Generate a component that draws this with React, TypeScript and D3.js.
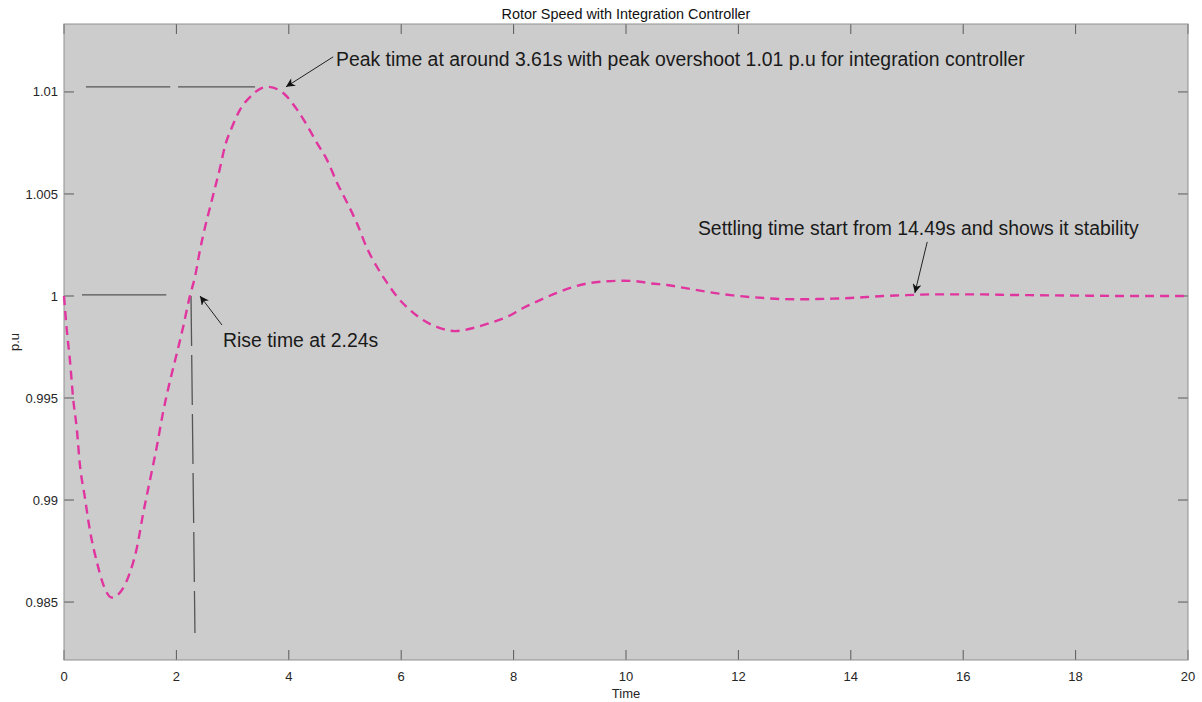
import React, { useEffect, useRef } from 'react'
import * as d3 from 'd3'

// rotor speed curve (time in s, speed in p.u)
const timeValues = [0, 0.05, 0.11, 0.16, 0.23, 0.28, 0.37, 0.46, 0.59, 0.69, 0.85, 1.03, 1.17, 1.3, 1.41, 1.53, 1.65, 1.76, 1.89, 2.01, 2.12, 2.24, 2.33, 2.42, 2.51, 2.6, 2.69, 2.78, 2.86, 2.99, 3.13, 3.31, 3.49, 3.63, 3.9, 4.15, 4.32, 4.5, 4.68, 4.86, 5.04, 5.21, 5.39, 5.57, 5.75, 5.93, 6.16, 6.39, 6.69, 6.96, 7.28, 7.58, 7.88, 8.17, 8.47, 8.77, 9.06, 9.36, 9.66, 9.95, 10.25, 10.43, 10.73, 11.01, 11.32, 11.62, 11.9, 12.21, 12.51, 12.79, 13.1, 13.4, 13.68, 13.99, 14.29, 14.57, 14.88, 15.18, 15.46, 15.77, 16.07, 16.35, 16.65, 17.2, 18, 19, 20]
const speedValues = [1, 0.99833, 0.99672, 0.99505, 0.99343, 0.99181, 0.99015, 0.98853, 0.98691, 0.98593, 0.98522, 0.98559, 0.98642, 0.9877, 0.98936, 0.99098, 0.9926, 0.99426, 0.99588, 0.99721, 0.99848, 1, 1.00093, 1.00225, 1.00338, 1.00436, 1.00534, 1.00632, 1.0073, 1.00828, 1.00912, 1.00975, 1.01015, 1.01025, 1.00995, 1.00912, 1.00838, 1.0075, 1.00667, 1.00554, 1.00456, 1.00358, 1.00235, 1.00142, 1.00064, 0.99995, 0.99931, 0.99882, 0.99843, 0.99828, 0.99843, 0.99868, 0.99897, 0.99941, 0.9998, 1.00015, 1.00044, 1.00064, 1.00072, 1.00075, 1.0007, 1.00062, 1.00054, 1.00041, 1.00026, 1.00013, 1.00003, 0.99995, 0.99989, 0.99985, 0.99984, 0.99985, 0.99987, 0.9999, 0.99995, 1, 1.00003, 1.00006, 1.00008, 1.00008, 1.00008, 1.00008, 1.00006, 1.00004, 1.00002, 1, 1]

const xTicks = [0, 2, 4, 6, 8, 10, 12, 14, 16, 18, 20]
const yTicks = [0.985, 0.99, 0.995, 1, 1.005, 1.01]

// hand drawn guide lines (data units): [t1, v1, t2, v2]
const guideLines = [
    [0.39, 1.01025, 1.89, 1.01025],
    [2.03, 1.01025, 3.4, 1.01025],
    [0.32, 1.00005, 1.82, 1.00005],
    [2.26, 1.0, 2.33, 0.98348]
]

// text arrows: tail, head and text position in data units
const annotations = [
    { text: 'Peak time at around 3.61s with peak overshoot 1.01 p.u for integration controller', tx: 4.84, tv: 1.01127, x1: 4.79, v1: 1.01172, x2: 3.95, v2: 1.01025 },
    { text: 'Rise time at 2.24s', tx: 2.83, tv: 0.9975, x1: 2.81, v1: 0.99858, x2: 2.42, v2: 1.0 },
    { text: 'Settling time start from 14.49s and shows it stability', tx: 11.28, tv: 1.003, x1: 15.36, v1: 1.00265, x2: 15.14, v2: 1.00015 }
]

function App() {
    const node = useRef<SVGSVGElement>(null)

    useEffect(() => {
        const WIDTH = 1202,
            HEIGHT = 702,
            MARGINS = { top: 24, right: 14, bottom: 42, left: 64 }

        const svg = d3.select(node.current)
        svg.selectAll('*').remove()

        const xScale = d3.scaleLinear().domain([0, 20]).range([MARGINS.left, WIDTH - MARGINS.right])
        const yScale = d3.scaleLinear().domain([0.98216, 1.01333]).range([HEIGHT - MARGINS.bottom, MARGINS.top])

        const x0 = MARGINS.left, x1 = WIDTH - MARGINS.right
        const y0 = MARGINS.top, y1 = HEIGHT - MARGINS.bottom
        const font = 'Liberation Sans, Arial, Helvetica, sans-serif'

        svg.append('rect')
            .attr('width', WIDTH).attr('height', HEIGHT).attr('fill', '#ffffff')

        svg.append('rect')
            .attr('x', x0).attr('y', y0)
            .attr('width', x1 - x0).attr('height', y1 - y0)
            .attr('fill', '#cccccc')

        const defs = svg.append('defs')
        defs.append('marker')
            .attr('id', 'arrowHead')
            .attr('viewBox', '0 0 10 10')
            .attr('refX', 10).attr('refY', 5)
            .attr('markerWidth', 11).attr('markerHeight', 9)
            .attr('markerUnits', 'userSpaceOnUse')
            .attr('orient', 'auto')
            .append('path')
            .attr('d', 'M0,0 L10,5 L0,10 L3,5 Z')
            .attr('fill', '#111111')

        // ticks, all four sides, pointing inward
        const tickLen = 10
        const tickColor = '#5a5a5a'
        xTicks.forEach(t => {
            const px = xScale(t)
            svg.append('line').attr('x1', px).attr('x2', px).attr('y1', y1).attr('y2', y1 - tickLen)
                .attr('stroke', tickColor).attr('stroke-width', 1)
            svg.append('line').attr('x1', px).attr('x2', px).attr('y1', y0).attr('y2', y0 + tickLen)
                .attr('stroke', tickColor).attr('stroke-width', 1)
            svg.append('text')
                .attr('x', px).attr('y', y1 + 21)
                .attr('text-anchor', 'middle')
                .style('font-family', font).style('font-size', '13px')
                .attr('fill', '#262626')
                .text(String(t))
        })
        yTicks.forEach(v => {
            const py = yScale(v)
            svg.append('line').attr('x1', x0).attr('x2', x0 + tickLen).attr('y1', py).attr('y2', py)
                .attr('stroke', tickColor).attr('stroke-width', 1)
            svg.append('line').attr('x1', x1).attr('x2', x1 - tickLen).attr('y1', py).attr('y2', py)
                .attr('stroke', tickColor).attr('stroke-width', 1)
            svg.append('text')
                .attr('x', x0 - 6).attr('y', py)
                .attr('dy', '0.35em')
                .attr('text-anchor', 'end')
                .style('font-family', font).style('font-size', '13px')
                .attr('fill', '#262626')
                .text(String(v))
        })

        // box
        svg.append('rect')
            .attr('x', x0).attr('y', y0)
            .attr('width', x1 - x0).attr('height', y1 - y0)
            .attr('fill', 'none')
            .attr('stroke', '#8f8f8f').attr('stroke-width', 1)

        // gray guide lines
        guideLines.forEach((g, i) => {
            svg.append('line')
                .attr('x1', xScale(g[0])).attr('y1', yScale(g[1]))
                .attr('x2', xScale(g[2])).attr('y2', yScale(g[3]))
                .attr('stroke', '#555555')
                .attr('stroke-width', 1.3)
                .attr('stroke-dasharray', i === 3 ? '50,9' : null)
        })

        const data = timeValues.map((t, i) => ({ x: t, y: speedValues[i] }))
        const valueline = d3.line<{ x: number, y: number }>()
            .x(d => xScale(d.x))
            .y(d => yScale(d.y))
            .curve(d3.curveMonotoneX)

        svg.append('path')
            .datum(data)
            .attr('d', valueline)
            .attr('fill', 'none')
            .attr('stroke', '#e0359f')
            .attr('stroke-width', 2.4)
            .attr('stroke-dasharray', '9,6')

        annotations.forEach(a => {
            svg.append('line')
                .attr('x1', xScale(a.x1)).attr('y1', yScale(a.v1))
                .attr('x2', xScale(a.x2)).attr('y2', yScale(a.v2))
                .attr('stroke', '#222222').attr('stroke-width', 1)
                .attr('marker-end', 'url(#arrowHead)')
            svg.append('text')
                .attr('x', xScale(a.tx)).attr('y', yScale(a.tv))
                .style('font-family', font).style('font-size', '19.4px')
                .attr('fill', '#1a1a1a')
                .text(a.text)
        })

        // title and axis labels
        svg.append('text')
            .attr('x', (x0 + x1) / 2).attr('y', 19)
            .attr('text-anchor', 'middle')
            .style('font-family', font).style('font-size', '14.4px')
            .attr('fill', '#111111')
            .text('Rotor Speed with Integration Controller')

        svg.append('text')
            .attr('x', (x0 + x1) / 2).attr('y', 698)
            .attr('text-anchor', 'middle')
            .style('font-family', font).style('font-size', '13px')
            .attr('fill', '#262626')
            .text('Time')

        svg.append('text')
            .attr('transform', 'translate(19,' + ((y0 + y1) / 2) + ') rotate(-90)')
            .attr('text-anchor', 'middle')
            .style('font-family', font).style('font-size', '13px')
            .attr('fill', '#262626')
            .text('p.u')
    }, [])

    return (
        <svg ref={node} width={1202} height={702}
            style={{ position: 'absolute', left: 0, top: 0, display: 'block' }} />
    )
}

export default App
